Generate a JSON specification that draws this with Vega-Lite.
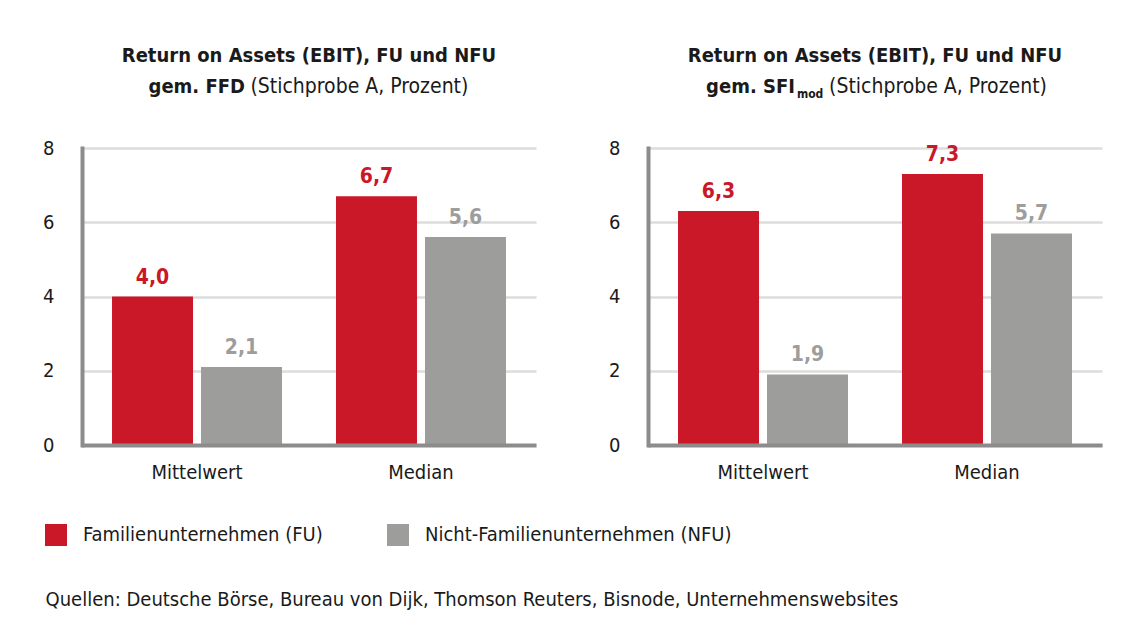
{
  "$schema": "https://vega.github.io/schema/vega-lite/v6.json",
  "background": "white",
  "padding": {"left": 42, "top": 40, "right": 5, "bottom": 5},
  "config": {
    "font": "Liberation Sans Narrow, DejaVu Sans Condensed, Roboto Condensed, sans-serif",
    "view": {"stroke": null},
    "locale": {"number": {"decimal": ",", "thousands": ".", "grouping": [3], "currency": ["", " €"]}}
  },
  "datasets": {
    "bars": [
      {"panel": "FFD", "stat": "Mittelwert", "group": "Familienunternehmen (FU)", "value": 4.0},
      {"panel": "FFD", "stat": "Mittelwert", "group": "Nicht-Familienunternehmen (NFU)", "value": 2.1},
      {"panel": "FFD", "stat": "Median", "group": "Familienunternehmen (FU)", "value": 6.7},
      {"panel": "FFD", "stat": "Median", "group": "Nicht-Familienunternehmen (NFU)", "value": 5.6},
      {"panel": "SFI", "stat": "Mittelwert", "group": "Familienunternehmen (FU)", "value": 6.3},
      {"panel": "SFI", "stat": "Mittelwert", "group": "Nicht-Familienunternehmen (NFU)", "value": 1.9},
      {"panel": "SFI", "stat": "Median", "group": "Familienunternehmen (FU)", "value": 7.3},
      {"panel": "SFI", "stat": "Median", "group": "Nicht-Familienunternehmen (NFU)", "value": 5.7}
    ],
    "header": [
      {"panel": "FFD", "line": 1, "role": "center", "text": "Return on Assets (EBIT), FU und NFU", "pos": 0.5},
      {"panel": "FFD", "line": 2, "role": "boldright", "text": "gem. FFD", "pos": 0.359},
      {"panel": "FFD", "line": 2, "role": "normalleft", "text": "(Stichprobe A, Prozent)", "pos": 0.371},
      {"panel": "SFI", "line": 1, "role": "center", "text": "Return on Assets (EBIT), FU und NFU", "pos": 0.5},
      {"panel": "SFI", "line": 2, "role": "boldright", "text": "gem. SFI", "pos": 0.3238},
      {"panel": "SFI", "line": 2, "role": "sub", "text": "mod", "pos": 0.328},
      {"panel": "SFI", "line": 2, "role": "normalleft", "text": "(Stichprobe A, Prozent)", "pos": 0.3987}
    ]
  },
  "title": {
    "text": "Quellen: Deutsche Börse, Bureau von Dijk, Thomson Reuters, Bisnode, Unternehmenswebsites",
    "orient": "bottom", "anchor": "start", "dx": 3, "fontSize": 20, "fontWeight": "normal", "color": "#1a1a1a", "offset": 44
  },
  "spacing": 72,
  "hconcat": [
    {
      "bounds": "flush",
      "spacing": 46,
      "vconcat": [
        {
          "width": 454, "height": 62,
          "data": {"name": "header"},
          "transform": [{"filter": "datum.panel === 'FFD'"}],
          "encoding": {
            "x": {"field": "pos", "type": "quantitative", "scale": {"domain": [0, 1]}, "axis": null},
            "y": {"field": "line", "type": "ordinal", "scale": {"domain": [1, 2]}, "axis": null},
            "text": {"field": "text"}
          },
          "layer": [
            {"transform": [{"filter": "datum.role === 'center'"}], "mark": {"type": "text", "align": "center", "baseline": "middle", "fontSize": 20, "fontWeight": "bold", "color": "#1a1a1a"}},
            {"transform": [{"filter": "datum.role === 'boldright'"}], "mark": {"type": "text", "align": "right", "baseline": "middle", "fontSize": 20, "fontWeight": "bold", "color": "#1a1a1a"}},
            {"transform": [{"filter": "datum.role === 'sub'"}], "mark": {"type": "text", "align": "left", "baseline": "middle", "fontSize": 12, "fontWeight": "bold", "dy": 7, "color": "#1a1a1a"}},
            {"transform": [{"filter": "datum.role === 'normalleft'"}], "mark": {"type": "text", "align": "left", "baseline": "middle", "fontSize": 21, "fontWeight": "normal", "color": "#1a1a1a"}}
          ]
        },
        {
          "width": 454, "height": 297,
          "data": {"name": "bars"},
          "transform": [{"filter": "datum.panel === 'FFD'"}],
          "encoding": {
            "x": {"field": "stat", "type": "nominal", "sort": ["Mittelwert", "Median"], "title": null,
                  "scale": {"paddingInner": 0.241, "paddingOuter": 0.134},
                  "axis": {"domainColor": "#8C8C8C", "domainWidth": 4, "ticks": false, "labelPadding": 17, "labelFontSize": 20, "labelAngle": 0, "labelColor": "#1a1a1a", "zindex": 1}},
            "xOffset": {"field": "group", "sort": ["Familienunternehmen (FU)", "Nicht-Familienunternehmen (NFU)"], "scale": {"paddingInner": 0.09, "paddingOuter": 0}},
            "y": {"field": "value", "type": "quantitative", "title": null, "scale": {"domain": [0, 8]},
                  "axis": {"values": [0, 2, 4, 6, 8], "tickSize": 0, "labelPadding": 28, "domainColor": "#8C8C8C", "domainWidth": 4, "domainCap": "square", "gridColor": "#DCDCDC", "gridWidth": 2.5, "labelFontSize": 20, "labelColor": "#1a1a1a"}},
            "color": {"field": "group", "type": "nominal",
                      "scale": {"domain": ["Familienunternehmen (FU)", "Nicht-Familienunternehmen (NFU)"], "range": ["#CA1829", "#9D9D9C"]},
                      "legend": {"orient": "none", "legendX": -37, "legendY": 484, "direction": "horizontal", "title": null, "symbolType": "square", "symbolSize": 484, "symbolStrokeWidth": 0, "symbolOpacity": 1, "labelFontSize": 20, "labelColor": "#1a1a1a", "labelOffset": 16, "columnPadding": 64, "labelLimit": 400}}
          },
          "layer": [
            {"mark": {"type": "bar"}},
            {"mark": {"type": "text", "dy": -13, "baseline": "alphabetic", "fontWeight": "bold", "fontSize": 21}, "encoding": {"text": {"field": "value", "type": "quantitative", "format": ".1f"}}}
          ]
        }
      ]
    },
    {
      "bounds": "flush",
      "spacing": 46,
      "vconcat": [
        {
          "width": 454, "height": 62,
          "data": {"name": "header"},
          "transform": [{"filter": "datum.panel === 'SFI'"}],
          "encoding": {
            "x": {"field": "pos", "type": "quantitative", "scale": {"domain": [0, 1]}, "axis": null},
            "y": {"field": "line", "type": "ordinal", "scale": {"domain": [1, 2]}, "axis": null},
            "text": {"field": "text"}
          },
          "layer": [
            {"transform": [{"filter": "datum.role === 'center'"}], "mark": {"type": "text", "align": "center", "baseline": "middle", "fontSize": 20, "fontWeight": "bold", "color": "#1a1a1a"}},
            {"transform": [{"filter": "datum.role === 'boldright'"}], "mark": {"type": "text", "align": "right", "baseline": "middle", "fontSize": 20, "fontWeight": "bold", "color": "#1a1a1a"}},
            {"transform": [{"filter": "datum.role === 'sub'"}], "mark": {"type": "text", "align": "left", "baseline": "middle", "fontSize": 12, "fontWeight": "bold", "dy": 7, "color": "#1a1a1a"}},
            {"transform": [{"filter": "datum.role === 'normalleft'"}], "mark": {"type": "text", "align": "left", "baseline": "middle", "fontSize": 21, "fontWeight": "normal", "color": "#1a1a1a"}}
          ]
        },
        {
          "width": 454, "height": 297,
          "data": {"name": "bars"},
          "transform": [{"filter": "datum.panel === 'SFI'"}],
          "encoding": {
            "x": {"field": "stat", "type": "nominal", "sort": ["Mittelwert", "Median"], "title": null,
                  "scale": {"paddingInner": 0.241, "paddingOuter": 0.134},
                  "axis": {"domainColor": "#8C8C8C", "domainWidth": 4, "ticks": false, "labelPadding": 17, "labelFontSize": 20, "labelAngle": 0, "labelColor": "#1a1a1a", "zindex": 1}},
            "xOffset": {"field": "group", "sort": ["Familienunternehmen (FU)", "Nicht-Familienunternehmen (NFU)"], "scale": {"paddingInner": 0.09, "paddingOuter": 0}},
            "y": {"field": "value", "type": "quantitative", "title": null, "scale": {"domain": [0, 8]},
                  "axis": {"values": [0, 2, 4, 6, 8], "tickSize": 0, "labelPadding": 28, "domainColor": "#8C8C8C", "domainWidth": 4, "domainCap": "square", "gridColor": "#DCDCDC", "gridWidth": 2.5, "labelFontSize": 20, "labelColor": "#1a1a1a"}},
            "color": {"field": "group", "type": "nominal",
                      "scale": {"domain": ["Familienunternehmen (FU)", "Nicht-Familienunternehmen (NFU)"], "range": ["#CA1829", "#9D9D9C"]},
                      "legend": {"orient": "none", "legendX": -37, "legendY": 484, "direction": "horizontal", "title": null, "symbolType": "square", "symbolSize": 484, "symbolStrokeWidth": 0, "symbolOpacity": 1, "labelFontSize": 20, "labelColor": "#1a1a1a", "labelOffset": 16, "columnPadding": 64, "labelLimit": 400}}
          },
          "layer": [
            {"mark": {"type": "bar"}},
            {"mark": {"type": "text", "dy": -13, "baseline": "alphabetic", "fontWeight": "bold", "fontSize": 21}, "encoding": {"text": {"field": "value", "type": "quantitative", "format": ".1f"}}}
          ]
        }
      ]
    }
  ]
}
